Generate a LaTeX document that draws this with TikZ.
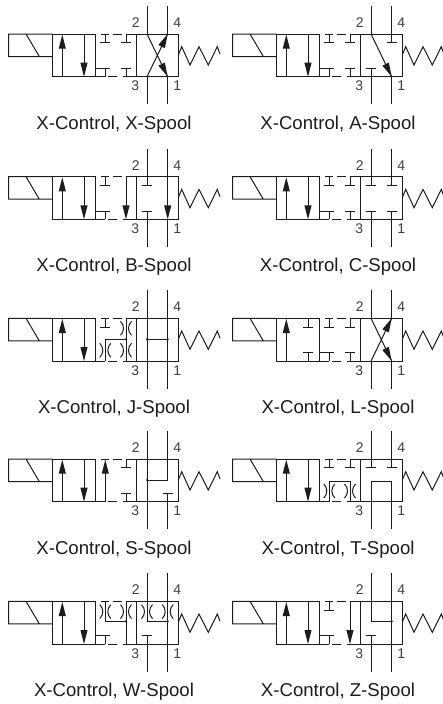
\documentclass[tikz,border=0pt]{standalone}
\usepackage{fontspec}
\setmainfont{Liberation Sans}
\definecolor{ink}{HTML}{1C1C1C}
\tikzset{
  x=1pt,y=-1pt,
  ln/.style={draw=ink,line width=1pt,line cap=butt,line join=miter},
  plab/.style={font=\fontsize{14}{14}\selectfont,text=ink!85!white,inner sep=0pt,anchor=center},
  captxt/.style={font=\fontsize{18.6}{20}\selectfont,text=ink,inner sep=0pt,anchor=base}
}
% geometry: p,q ports at 94.7,115.4 ; a,b middle at 53,73.7 ; cells 0-42.7, 83.7-126
\newcommand{\hd}[3]{\fill[ink,shift={(#1,#2)},rotate=#3] (0,0)--(-14,3.6)--(-14,-3.6)--cycle;}
\newcommand{\Tt}[1]{\draw[ln] (#1,0)--(#1,8.7) (#1-5,8.7)--(#1+5,8.7);}
\newcommand{\Tb}[1]{\draw[ln] (#1,42.7)--(#1,34.3) (#1-5,34.3)--(#1+5,34.3);}
\newcommand{\Feed}{\draw[ln] (42.7,34.3)--(53,34.3);}
\newcommand{\Thru}[1]{\draw[ln] (#1,0)--(#1,42.7);}
\newcommand{\Dn}[1]{\draw[ln] (#1,0)--(#1,30); \hd{#1}{42.7}{-90}}
\newcommand{\Up}[1]{\draw[ln] (#1,42.7)--(#1,12); \hd{#1}{0.7}{90}}
\newcommand{\Rs}[2]{\draw[ln] (#1-5.5,#2-7) .. controls (#1-1.5,#2-3) and (#1-1.5,#2+3) .. (#1-5.5,#2+7)
   (#1+5.5,#2-7) .. controls (#1+1.5,#2-3) and (#1+1.5,#2+3) .. (#1+5.5,#2+7);}
\newcommand{\Dt}[2]{\fill[ink] (#1,#2) circle (1.2);}
\newcommand{\Xr}{\draw[ln] (94.7,0)--(115.4,42.7) (94.7,42.7)--(115.4,0); \hd{115.4}{42.7}{-64.1} \hd{115.4}{0}{64.1}}
\newcommand{\Lstd}{\Up{10}\Dn{31.7}}
\newcommand{\panel}[5]{%
 \begin{scope}[shift={(#1,#2)}]
  \draw[ln] (0,0) rectangle (42.7,42.7);
  \draw[ln] (0,22.5)--(-43.6,22.5)--(-43.6,0)--(0,0) (-26.3,0)--(-13,22.5);
  \draw[ln] (83.7,0) rectangle (126,42.7);
  \draw[ln] (48.7,0)--(57,0) (61,0)--(69.4,0) (73.7,0)--(83.7,0);
  \draw[ln] (42.7,42.7)--(53,42.7) (56,42.7)--(64.4,42.7) (71,42.7)--(83.7,42.7);
  \draw[ln] (94.7,-28)--(94.7,0) (115.4,-28)--(115.4,0) (94.7,42.7)--(94.7,70.3) (115.4,42.7)--(115.4,70.3);
  \draw[ln] (126,21)--(129.4,12.7)--(137.7,31)--(146.7,12.7)--(156,31)--(165,12.7)--(167.7,20);
  \node[plab] (#3n2) at (83.4,-11.3) {2};
  \node[plab] (#3n4) at (125,-11.3) {4};
  \node[plab] (#3n3) at (83,52) {3};
  \node[plab] (#3n1) at (125,52) {1};
  \node[captxt] (#3cap) at (61.7,95) {#4};
  #5
 \end{scope}}
\begin{document}
\begin{tikzpicture}
\useasboundingbox (0,0) rectangle (443,704);
\fill[white] (0,0) rectangle (443,704);
% X
\panel{52.3}{34}{x}{X-Control, X-Spool}{\Lstd \Tt{53}\Tt{73.7}\Tb{53}\Tb{73.7}\Feed \Xr}
% A
\panel{276.3}{34}{a}{X-Control, A-Spool}{\Lstd \Tt{53}\Tt{73.7}\Tb{53}\Tb{73.7}\Feed
  \draw[ln] (94.7,0)--(115.4,42.7); \hd{115.4}{42.7}{-64.1} \Tt{115.4}\Tb{94.7}}
% B
\panel{52.3}{176.7}{b}{X-Control, B-Spool}{\Lstd \Tt{53}\Dn{73.7}\Tb{53}\Feed \Tt{94.7}\Tb{94.7}\Dn{115.4}}
% C
\panel{276.3}{176.7}{c}{X-Control, C-Spool}{\Lstd \Tt{53}\Tt{73.7}\Tb{53}\Tb{73.7}\Feed \Tt{94.7}\Tt{115.4}\Tb{94.7}\Tb{115.4}}
% J
\panel{52.3}{318.3}{j}{X-Control, J-Spool}{\Lstd \Tt{53}\Thru{73.7}\Rs{73.7}{10}\Rs{73.7}{32}\Rs{53}{32}
  \draw[ln] (53,42.7)--(53,21)--(73.7,21); \Dt{73.7}{21}
  \Thru{94.7}\Thru{115.4}\draw[ln] (94.7,21)--(115.4,21); \Dt{94.7}{21}\Dt{115.4}{21}}
% L
\panel{276.3}{318.3}{l}{X-Control, L-Spool}{\Up{10}\Tt{31.7}\Tb{31.7}\Tt{53}\Tt{73.7}\Tb{53}\Tb{73.7}\Feed \Xr}
% S
\panel{52.3}{459}{s}{X-Control, S-Spool}{\Lstd \Up{53}\Tt{73.7}\Tb{73.7}
  \Thru{94.7}\draw[ln] (115.4,0)--(115.4,21)--(94.7,21); \Dt{94.7}{21}\Tb{115.4}}
% T
\panel{276.3}{459}{t}{X-Control, T-Spool}{\Lstd \Tt{53}\Tt{73.7}\Rs{53}{32}\Rs{73.7}{32}
  \draw[ln] (53,42.7)--(53,22)--(73.7,22)--(73.7,42.7);
  \Tt{94.7}\Tt{115.4}\draw[ln] (94.7,42.7)--(94.7,22)--(115.4,22)--(115.4,42.7);}
% W
\panel{52.3}{601.3}{w}{X-Control, W-Spool}{\Lstd \Rs{53}{10.3}\Rs{73.7}{10.3}\Rs{94.7}{10.3}\Rs{115.4}{10.3}
  \draw[ln] (53,0)--(53,20)--(73.7,20); \Thru{73.7}\Dt{73.7}{20}\Tb{53}\Feed
  \draw[ln] (94.7,0)--(94.7,20)--(115.4,20); \Thru{115.4}\Dt{115.4}{20}\Tb{94.7}}
% Z
\panel{276.3}{601.3}{z}{X-Control, Z-Spool}{\Lstd \Tt{53}\Dn{73.7}\Tb{53}\Feed
  \draw[ln] (94.7,0)--(94.7,20)--(115.4,20); \Thru{115.4}\Dt{115.4}{20}\Tb{94.7}}
\end{tikzpicture}
\end{document}
